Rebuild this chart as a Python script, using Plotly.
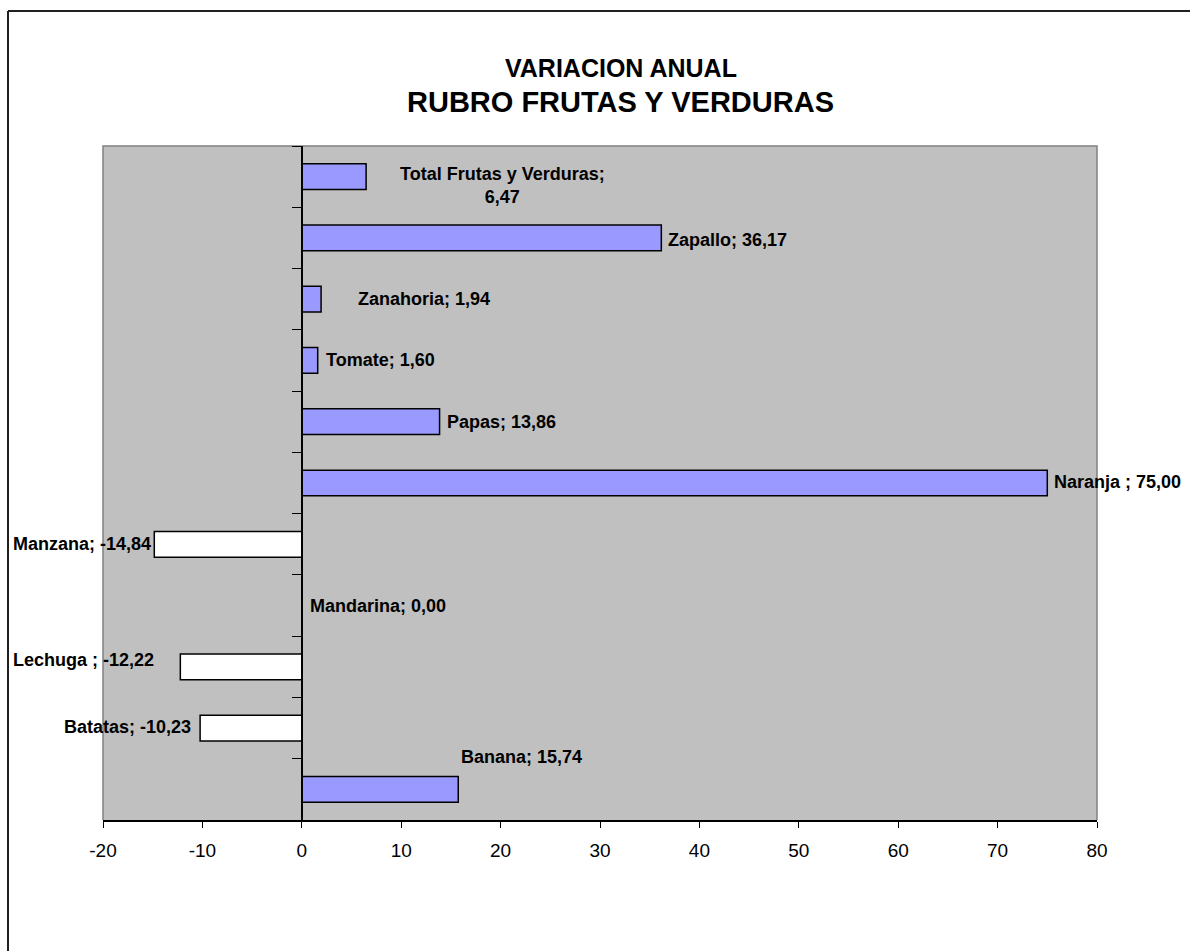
import plotly.graph_objects as go

# Annual variation (%) by product, listed top to bottom
categories = [
    "Total Frutas y Verduras", "Zapallo", "Zanahoria", "Tomate", "Papas",
    "Naranja ", "Manzana", "Mandarina", "Lechuga ", "Batatas", "Banana",
]
values = [6.47, 36.17, 1.94, 1.60, 13.86, 75.00, -14.84, 0.00, -12.22, -10.23, 15.74]

x_ticks = [-20, -10, 0, 10, 20, 30, 40, 50, 60, 70, 80]

FONT = "Arial, 'Liberation Sans', sans-serif"
POS_FILL = "#9999FF"
NEG_FILL = "#FFFFFF"

fig = go.Figure()
fig.add_trace(go.Bar(
    x=values,
    y=categories,
    orientation="h",
    width=0.42,
    marker=dict(
        color=[POS_FILL if v >= 0 else NEG_FILL for v in values],
        line=dict(color="black", width=1.5),
    ),
    hoverinfo="skip",
))


def fmt(v):
    return f"{v:.2f}".replace(".", ",")


# Label placement per category: (x in data units, anchor, vertical shift px)
label_place = [
    (20.2, "center", -9),
    (36.6, "left", -2),
    (5.5, "left", 0),
    (2.2, "left", 0),
    (14.4, "left", 0),
    (75.5, "left", 1),
    (-15.0, "right", 0),
    (0.6, "left", 0),
    (-14.7, "right", 7),
    (-10.9, "right", 1),
    (15.8, "left", 32),
]

annotations = []
for cat, val, (lx, anchor, shift) in zip(categories, values, label_place):
    sep = ";<br>" if cat.startswith("Total") else "; "
    annotations.append(dict(
        x=lx, y=cat, xref="x", yref="y",
        text=f"{cat}{sep}{fmt(val)}",
        xanchor=anchor, yanchor="middle", yshift=shift,
        showarrow=False, align="center",
        font=dict(family=FONT, size=18, color="black", weight="bold"),
    ))

W, H = 1190, 951
L, R, T, B = 103, 93, 146, 131
pw, ph = W - L - R, H - T - B


def px_x(p):
    return (p - L) / pw


def px_y(p):
    return 1 - (p - T) / ph


# Two-line chart title
annotations.append(dict(
    x=px_x(621), y=px_y(68), xref="paper", yref="paper", text="VARIACION ANUAL",
    showarrow=False, font=dict(family=FONT, size=25, color="black", weight="bold"),
    xanchor="center", yanchor="middle",
))
annotations.append(dict(
    x=px_x(620), y=px_y(102), xref="paper", yref="paper", text="RUBRO FRUTAS Y VERDURAS",
    showarrow=False, font=dict(family=FONT, size=29, color="black", weight="bold"),
    xanchor="center", yanchor="middle",
))

shapes = [
    # plot-area frame (left, top, right) in grey
    dict(type="path", xref="paper", yref="paper",
         path="M 0,0 L 0,1 L 1,1 L 1,0",
         line=dict(color="#808080", width=1.5), layer="below"),
    # outer chart border
    dict(type="line", xref="paper", yref="paper",
         x0=px_x(8), x1=px_x(1200), y0=px_y(11), y1=px_y(11),
         line=dict(color="#202020", width=2)),
    dict(type="line", xref="paper", yref="paper",
         x0=px_x(8), x1=px_x(8), y0=px_y(11), y1=px_y(960),
         line=dict(color="#202020", width=2)),
]

fig.update_layout(
    width=W, height=H,
    margin=dict(l=L, r=R, t=T, b=B),
    paper_bgcolor="white",
    plot_bgcolor="#C0C0C0",
    showlegend=False,
    annotations=annotations,
    shapes=shapes,
    xaxis=dict(
        range=[-20, 80],
        tickvals=x_ticks,
        ticktext=[str(t) for t in x_ticks],
        ticks="outside", ticklen=6, tickcolor="black", tickwidth=1,
        ticklabelstandoff=6,
        showline=True, linecolor="black", linewidth=1.5,
        showgrid=False, zeroline=False,
        tickfont=dict(family=FONT, size=19, color="black"),
    ),
    yaxis=dict(
        categoryorder="array", categoryarray=categories,
        range=[len(categories) - 0.5, -0.5],
        anchor="free", position=(0 - (-20)) / (80 - (-20)),
        showline=True, linecolor="black", linewidth=1.5,
        ticks="outside", tickson="boundaries", ticklen=9,
        tickcolor="black", tickwidth=1,
        showticklabels=False, showgrid=False, zeroline=False,
    ),
)

fig.write_html("out.html")
